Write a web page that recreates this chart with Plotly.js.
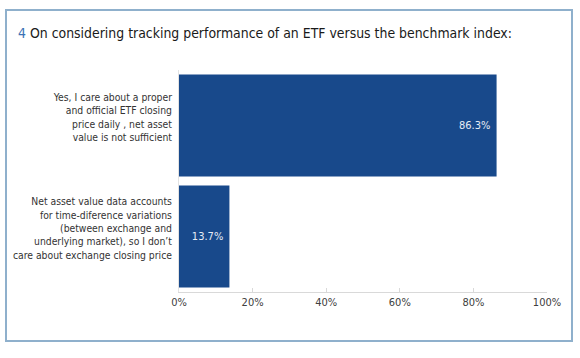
<!DOCTYPE html>
<html><head><meta charset="utf-8">
<script src="https://cdn.plot.ly/plotly-3.0.1.min.js"></script>
<style>html,body{margin:0;padding:0;background:#fff}#chart{width:580px;height:358px}</style>
</head><body><div id="chart"></div>
<script>
const categories = [
  "Yes, I care about a proper<br>and official ETF closing<br>price daily , net asset<br>value is not sufficient",
  "Net asset value data accounts<br>for time-diference variations<br>(between exchange and<br>underlying market), so I don’t<br>care about exchange closing price"
];
const values = [86.3, 13.7];
const tickVals = [0, 20, 40, 60, 80, 100];
const tickText = ["0%", "20%", "40%", "60%", "80%", "100%"];
const titleNumber = "4";
const titleText = "On considering tracking performance of an ETF versus the benchmark index:";

const FONT = '"Liberation Sans Narrow", "DejaVu Sans Condensed", "Roboto", sans-serif';
const W = 580, H = 358, L = 179, R = 33, T = 70, B = 66;
const pw = W - L - R, ph = H - T - B;
const px = x => (x - L) / pw, py = y => (H - B - y) / ph;

Plotly.newPlot('chart', [{
  type: 'bar', orientation: 'h',
  x: values, y: categories,
  marker: {color: '#18498b'},
  text: values.map(v => v.toFixed(1) + '%\u00a0'),
  textposition: 'inside', insidetextanchor: 'end',
  textfont: {family: FONT, size: 11, color: '#e6ecf5'},
  hoverinfo: 'none'
}], {
  width: W, height: H,
  margin: {l: L, r: R, t: T, b: B, pad: 0},
  paper_bgcolor: '#fff', plot_bgcolor: '#fff',
  font: {family: FONT, color: '#333'},
  bargap: 0.08,
  showlegend: false,
  title: {
    text: '<span style="color:#3b72b5">' + titleNumber + '</span> ' + titleText,
    x: 18 / W, xref: 'container', xanchor: 'left',
    y: 1 - 33 / H, yref: 'container', yanchor: 'middle',
    font: {family: FONT, size: 13.9, color: '#1a1a1a'}
  },
  xaxis: {
    range: [0, 100], tickvals: tickVals, ticktext: tickText,
    showgrid: false, zeroline: false,
    showline: true, linecolor: '#d9d9d9', linewidth: 1,
    ticks: 'inside', ticklen: 4, tickcolor: '#d9d9d9',
    tickfont: {family: FONT, size: 11, color: '#404040'},
    fixedrange: true
  },
  yaxis: {
    type: 'category', autorange: 'reversed',
    showgrid: false, zeroline: false,
    showline: true, linecolor: '#e3e3e3', linewidth: 1,
    ticks: '', ticklabelstandoff: 4, ticklabelshift: 8,
    tickfont: {family: FONT, size: 10.3, color: '#333'},
    fixedrange: true
  },
  shapes: [{
    type: 'rect', xref: 'paper', yref: 'paper',
    x0: px(6), x1: px(572), y0: py(341), y1: py(10),
    line: {color: '#8fb0cc', width: 2}, fillcolor: 'rgba(0,0,0,0)'
  }]
}, {displayModeBar: false, staticPlot: true});
</script></body></html>
